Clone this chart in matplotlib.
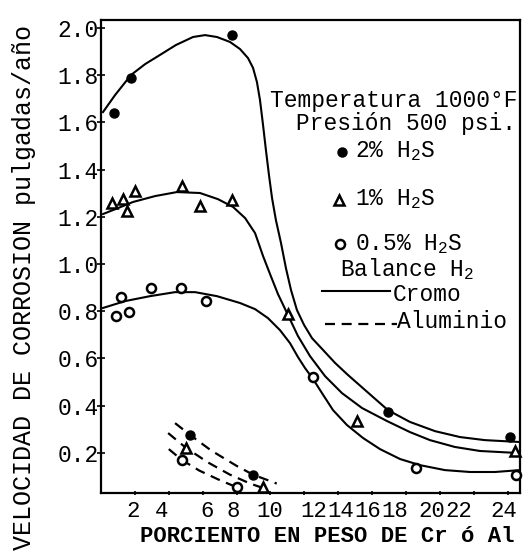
import numpy as np
import matplotlib
matplotlib.use("Agg")
from matplotlib import pyplot as plt

# --- Cromo curves (solid) ---
cr2_x = [0.12, 0.83, 1.77, 2.60, 3.48, 4.42, 5.43, 6.14, 6.84, 7.61, 8.20, 8.67, 8.97,
         9.20, 9.38, 9.56, 9.73, 9.91, 10.09, 10.32, 10.62, 10.91, 11.21, 11.56, 11.98,
         12.45, 13.10, 13.81, 14.57, 15.52, 16.93, 18.23, 19.71, 21.18, 22.65, 24.72]
cr2_y = [1.644, 1.716, 1.801, 1.847, 1.886, 1.928, 1.962, 1.970, 1.962, 1.941, 1.911,
         1.873, 1.831, 1.771, 1.695, 1.589, 1.483, 1.377, 1.280, 1.186, 1.089, 0.983,
         0.890, 0.805, 0.742, 0.686, 0.636, 0.581, 0.530, 0.470, 0.381, 0.331, 0.292,
         0.267, 0.254, 0.246]

cr1_x = [0.12, 1.00, 1.89, 3.19, 4.48, 5.84, 6.90, 7.79, 8.50, 9.09, 9.56, 9.97, 10.44,
         11.03, 11.62, 12.33, 13.22, 14.22, 15.40, 16.87, 18.23, 19.41, 20.88, 22.36, 24.72]
cr1_y = [1.212, 1.237, 1.263, 1.288, 1.305, 1.301, 1.275, 1.242, 1.195, 1.131, 1.034,
         0.958, 0.873, 0.784, 0.695, 0.610, 0.525, 0.453, 0.390, 0.335, 0.288, 0.254,
         0.225, 0.208, 0.199]

cr05_x = [0.12, 1.42, 2.89, 4.37, 5.55, 6.84, 8.20, 9.09, 9.85, 10.56, 11.15, 11.62,
          12.04, 12.51, 13.04, 13.69, 14.51, 15.46, 16.46, 17.64, 18.82, 20.29, 21.77,
          23.24, 24.72]
cr05_y = [0.814, 0.843, 0.864, 0.881, 0.881, 0.864, 0.835, 0.809, 0.771, 0.720, 0.665,
          0.606, 0.559, 0.513, 0.453, 0.381, 0.318, 0.263, 0.216, 0.174, 0.148, 0.127,
          0.119, 0.119, 0.127]

# --- Aluminio curves (dashed) ---
al2_x = [4.37, 5.24, 6.5, 8.0, 8.96, 10.37]
al2_y = [0.326, 0.277, 0.21, 0.145, 0.108, 0.07]
al1_x = [3.96, 5.0, 6.3, 7.6, 8.8, 9.8]
al1_y = [0.284, 0.222, 0.16, 0.108, 0.07, 0.045]
al05_x = [4.0, 4.77, 5.8, 6.9, 8.08]
al05_y = [0.216, 0.17, 0.125, 0.088, 0.052]

# --- measured points ---
p2_x = [0.77, 1.77, 7.73, 16.93, 24.13, 5.24, 8.96]
p2_y = [1.64, 1.79, 1.97, 0.373, 0.267, 0.277, 0.108]
p1_x = [0.65, 1.3, 1.53, 2.0, 4.78, 5.84, 7.73, 11.03, 15.1, 24.42, 5.0, 9.55]
p1_y = [1.258, 1.275, 1.225, 1.31, 1.33, 1.246, 1.271, 0.79, 0.335, 0.21, 0.222, 0.055]
p05_x = [0.89, 1.65, 1.18, 2.95, 4.72, 6.19, 12.5, 18.58, 24.48, 4.77, 8.0]
p05_y = [0.78, 0.797, 0.86, 0.90, 0.90, 0.843, 0.52, 0.136, 0.106, 0.17, 0.055]

y_ticks = [0.2, 0.4, 0.6, 0.8, 1.0, 1.2, 1.4, 1.6, 1.8, 2.0]
y_labels = ["0.2", "0.4", "0.6", "0.8", "1.0", "1.2", "1.4", "1.6", "1.8", "2.0"]
x_ticks = list(range(2, 25, 2))
x_labels = [str(v) for v in x_ticks]
# the typed labels sit a little off their tick marks in the original
x_label_pos = [1.89, 3.60, 6.25, 7.79, 9.97, 12.54, 14.13, 15.72, 17.32, 19.5, 21.09, 23.78]

plt.rcParams['font.family'] = ['Liberation Mono', 'DejaVu Sans Mono']
plt.rcParams['mathtext.fontset'] = 'custom'
plt.rcParams['mathtext.rm'] = 'Liberation Mono'
plt.rcParams['mathtext.it'] = 'Liberation Mono:italic'
plt.rcParams['mathtext.bf'] = 'Liberation Mono:bold'

fig = plt.figure(figsize=(5.25, 5.59), dpi=100)
ax = fig.add_axes([101 / 525, 66 / 559, 419 / 525, 473 / 559])
ax.set_xlim(0, 24.72)
ax.set_ylim(0.03, 2.034)

for s in ax.spines.values():
    s.set_linewidth(1.6)

lw = 1.5
ax.plot(cr2_x, cr2_y, color='k', lw=lw)
ax.plot(cr1_x, cr1_y, color='k', lw=lw)
ax.plot(cr05_x, cr05_y, color='k', lw=lw)
for xs, ys in [(al2_x, al2_y), (al1_x, al1_y), (al05_x, al05_y)]:
    ax.plot(xs, ys, color='k', lw=1.6, dashes=(4.5, 3))

filled = dict(marker='o', ms=6.5, color='k', ls='none', clip_on=False, zorder=4)
tri = dict(marker='^', ms=6.5, mfc='white', mec='k', mew=1.8, ls='none', clip_on=False, zorder=4)
hollow = dict(marker='o', ms=6.5, mfc='white', mec='k', mew=1.8, ls='none', clip_on=False, zorder=4)
ax.plot(p2_x, p2_y, **filled)
ax.plot(p1_x, p1_y, **tri)
ax.plot(p05_x, p05_y, **hollow)

# legend block
fs = 16.5
ax.text(9.97, 1.665, "Temperatura 1000°F", fontsize=fs, va='baseline', ha='left')
ax.text(11.5, 1.568, "Presión 500 psi.", fontsize=fs, va='baseline', ha='left')
ax.plot([14.2], [1.475], **filled)
ax.text(14.99, 1.453, "2% H$_2$S", fontsize=fs, va='baseline', ha='left')
ax.plot([14.04], [1.27], **tri)
ax.text(14.99, 1.25, "1% H$_2$S", fontsize=fs, va='baseline', ha='left')
ax.plot([14.1], [1.085], **hollow)
ax.text(14.99, 1.058, "0.5% H$_2$S", fontsize=fs, va='baseline', ha='left')
ax.text(14.1, 0.95, "Balance H$_2$", fontsize=fs, va='baseline', ha='left')
ax.plot([13.04, 17.05], [0.885, 0.885], color='k', lw=lw)
ax.text(17.2, 0.845, "Cromo", fontsize=fs, va='baseline', ha='left')
ax.plot([13.2, 17.46], [0.745, 0.745], color='k', lw=1.6, dashes=(4.5, 3))
ax.text(17.46, 0.73, "Aluminio", fontsize=fs, va='baseline', ha='left')

# ticks
ax.set_yticks(y_ticks)
ax.set_yticklabels(y_labels, fontsize=fs)
ax.tick_params(axis='y', direction='inout', length=6, width=1.2, pad=-1.5)
ax.set_xticks(x_label_pos)
ax.set_xticklabels(x_labels, fontsize=16)
ax.tick_params(axis='x', length=0, pad=6)
ax.set_xticks(x_ticks, minor=True)
ax.tick_params(axis='x', which='minor', direction='inout', length=3, width=1.2)

fig.text(327 / 525, 1 - 537 / 559, "PORCIENTO EN PESO DE Cr ó Al", fontsize=16,
         weight='bold', ha='center', va='center')
fig.text(24 / 525, 1 - 287 / 559, "VELOCIDAD DE CORROSION pulgadas/año", fontsize=18,
         rotation=90, ha='center', va='center')

fig.savefig("out.png", dpi=100)
